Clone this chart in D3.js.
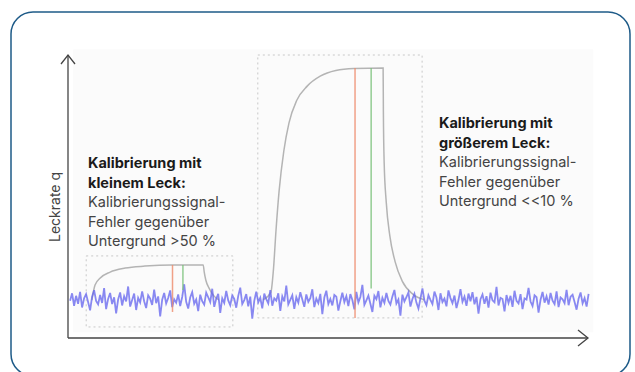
<!DOCTYPE html>
<meta charset="utf-8">
<head>
  <title>Leckrate Kalibrierung</title>
</head>
<style>
body {
  margin: 0;
  background: #fff;
  font-family: Inter, "Noto Sans", sans-serif;
}
.note { font-size: 14.5px; fill: #444; }
.note .head { font-weight: 700; fill: #1a1a1a; }
</style>
<body>
<svg id="chart" width="635" height="372"></svg>

<script src="https://cdnjs.cloudflare.com/ajax/libs/d3/7.8.5/d3.min.js"></script>
<script>
// signal curves (time, signal)
var bigCurve = [[37.5,13.5],[39.0,16],[39.5,24],[40.0,38],[40.6,52],[41.5,66],[42.5,76],[44.0,84],[46.0,89],[48.5,92.5],[51.5,94.5],[55,95.2],[60.6,95.4],[60.65,80],[60.8,62],[61.2,48],[61.9,36],[62.9,27],[64.3,20],[66.3,15.5],[68.5,13.5]];
var smallCurve = [[4.6,13.4],[5.2,18.7],[6.2,21.2],[8.1,23.3],[11,24.7],[14.8,25.4],[20,25.8],[26,25.8],[26.2,23.3],[26.5,20.5],[27.1,17.7],[28.1,14.8],[29,13.5]];

// marker lines: time, top, bottom
var redLines = [[55.2, 95.4, 7.1], [20.1, 25.8, 9.2]];
var greenLines = [[58.3, 95.4, 17.5], [22.1, 25.8, 17]];

// dashed frames around the two calibrations: t0, t1, s0, s1
var boxes = [[36.5, 68.1, 7.1, 100], [3.5, 31.7, 3.9, 29]];

// background noise
var noiseStart = 0.4, noiseStep = 0.385;
var noise = [
13.2,15.8,11.4,14.9,12.1,16.3,10.8,14.0,15.5,12.7,9.8,14.6,16.9,13.1,11.9,15.2,12.4,17.6,10.2,13.8,
15.9,12.0,14.4,8.7,13.6,16.1,11.5,14.8,12.9,18.2,11.1,13.4,15.7,9.9,14.2,12.6,16.5,13.0,10.6,15.1,
13.9,11.7,17.1,12.3,14.7,7.6,13.5,15.9,12.2,14.1,16.8,10.9,13.7,12.5,15.4,11.3,14.5,19.0,12.8,10.4,
14.3,16.2,12.1,13.6,9.5,15.3,13.0,11.8,16.0,14.4,12.7,17.4,11.0,13.9,15.6,8.9,14.0,12.4,16.6,13.3,
11.6,15.0,13.8,10.7,14.9,17.8,12.0,13.4,15.5,11.2,14.6,6.8,13.1,16.4,12.6,14.2,10.5,15.7,13.7,12.2,
16.9,11.4,14.0,13.2,15.8,9.6,14.7,12.9,18.5,11.9,13.5,15.1,10.3,14.4,12.5,16.2,13.6,11.0,15.4,12.8,
14.1,17.2,10.9,13.9,12.3,15.6,8.4,14.3,16.7,12.0,13.8,11.5,15.2,14.6,9.7,13.0,16.0,12.7,14.8,11.3,
15.5,13.4,10.1,16.3,12.6,14.5,18.8,11.7,13.3,15.0,12.1,9.2,14.9,13.7,16.6,10.8,14.2,12.4,15.9,13.1,
11.8,14.7,17.0,12.2,13.6,7.9,15.3,12.9,14.4,16.1,11.1,13.8,15.6,12.5,10.4,14.0,17.5,13.2,11.6,15.1,
13.5,12.0,16.4,14.3,9.9,15.8,12.7,13.9,11.2,16.8,14.1,12.3,15.0,10.6,13.4,17.3,12.8,14.6,11.4,15.7,
13.0,16.2,11.9,14.5,8.6,13.7,15.4,12.1,14.8,10.7,16.0,13.3,12.6,18.1,11.5,14.2,13.8,9.4,15.2,12.4,
14.9,11.0,16.7,13.1,12.2,15.5,10.2,14.0,13.6,17.7,12.9,11.3,15.1,14.4,9.0,13.5,16.3,12.5,14.7,11.8,
15.9,13.2,12.0,16.5,10.9,14.3,13.7,12.3,17.0,11.6,14.6,15.3,12.7,10.0,13.9,16.1,12.2,14.1,11.1,15.6
];

var leftNote = ["Kalibrierung mit", "kleinem Leck:", "Kalibrierungssignal-", "Fehler gegenüber", "Untergrund >50 %"];
var rightNote = ["Kalibrierung mit", "größerem Leck:", "Kalibrierungssignal-", "Fehler gegenüber", "Untergrund <<10 %"];
var yLabel = "Leckrate q";

var svg = d3.select("#chart");

// card frame
svg.append("rect")
  .attr("x", 11).attr("y", 12)
  .attr("width", 619).attr("height", 364)
  .attr("rx", 22)
  .attr("fill", "#fff")
  .attr("stroke", "#1e5b88")
  .attr("stroke-width", 1.5);

var x = d3.scaleLinear().domain([0, 100]).range([68, 588]);
var y = d3.scaleLinear().domain([0, 100]).range([338, 55]);

// faint picture background
svg.append("rect")
  .attr("x", x(1)).attr("y", y(102))
  .attr("width", x(101) - x(1)).attr("height", y(2) - y(102))
  .attr("fill", "#fbfbfb");

// dashed frames
svg.selectAll(".box").data(boxes).enter().append("rect")
  .attr("class", "box")
  .attr("x", function(d) { return x(d[0]); })
  .attr("y", function(d) { return y(d[3]); })
  .attr("width", function(d) { return x(d[1]) - x(d[0]); })
  .attr("height", function(d) { return y(d[2]) - y(d[3]); })
  .attr("fill", "none")
  .attr("stroke", "#c8c8c8")
  .attr("stroke-width", 1)
  .attr("stroke-dasharray", "2,3");

var line = d3.line()
  .x(function(d) { return x(d[0]); })
  .y(function(d) { return y(d[1]); })
  .curve(d3.curveMonotoneX);

[bigCurve, smallCurve].forEach(function(c) {
  svg.append("path")
    .datum(c)
    .attr("d", line)
    .attr("fill", "none")
    .attr("stroke", "#b4b4b4")
    .attr("stroke-width", 1.5);
});

// noise
var noiseLine = d3.line()
  .x(function(d, i) { return x(noiseStart + i * noiseStep); })
  .y(function(d) { return y(d); });

svg.append("path")
  .datum(noise)
  .attr("d", noiseLine)
  .attr("fill", "none")
  .attr("stroke", "#6262ee")
  .attr("stroke-width", 1.8)
  .attr("stroke-opacity", 0.75);

function markers(data, color) {
  svg.selectAll(null).data(data).enter().append("line")
    .attr("x1", function(d) { return x(d[0]); })
    .attr("x2", function(d) { return x(d[0]); })
    .attr("y1", function(d) { return y(d[1]); })
    .attr("y2", function(d) { return y(d[2]); })
    .attr("stroke", color)
    .attr("stroke-width", 1.5)
    .attr("stroke-opacity", 0.8);
}
markers(redLines, "#ee8a6a");
markers(greenLines, "#78c078");

// axes with open arrow heads
var ax = svg.append("g")
  .attr("fill", "none")
  .attr("stroke", "#444")
  .attr("stroke-width", 1.3);

ax.append("path")
  .attr("d", "M" + x(0) + "," + y(0) + "V" + y(100));
ax.append("path")
  .attr("d", "M" + (x(0) - 7) + "," + (y(100) + 9) + "L" + x(0) + "," + y(100) + "L" + (x(0) + 7) + "," + (y(100) + 9));
ax.append("path")
  .attr("d", "M" + x(0) + "," + y(0) + "H" + x(100));
ax.append("path")
  .attr("d", "M" + (x(100) - 10) + "," + (y(0) - 8) + "L" + x(100) + "," + y(0) + "L" + (x(100) - 10) + "," + (y(0) + 8));

svg.append("text")
  .attr("transform", "translate(60,207) rotate(-90)")
  .attr("text-anchor", "middle")
  .style("font-size", "14px")
  .style("fill", "#444")
  .text(yLabel);

function note(lines, x0, y0) {
  var t = svg.append("text").attr("class", "note");
  lines.forEach(function(s, i) {
    t.append("tspan")
      .attr("class", i < 2 ? "head" : null)
      .attr("x", x0)
      .attr("y", y0 + i * 19.5)
      .text(s);
  });
}
note(leftNote, 88, 168);
note(rightNote, 439, 128);
</script>
</body>
